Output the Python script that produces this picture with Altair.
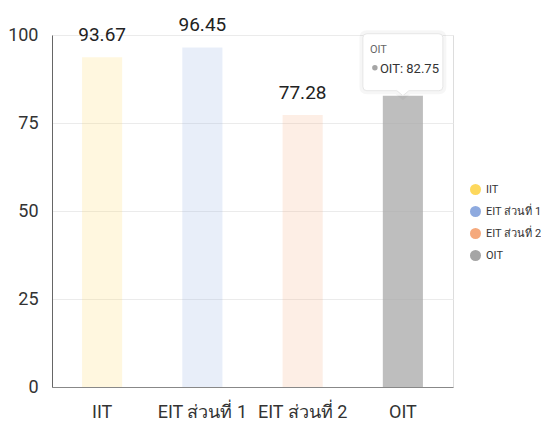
import altair as alt
import pandas as pd

categories = ["IIT", "EIT ส่วนที่ 1", "EIT ส่วนที่ 2", "OIT"]
values = [93.67, 96.45, 77.28, 82.75]
legend_colors = ["#fdd85d", "#8eaadf", "#f5a97c", "#a5a5a5"]
y_ticks = [0, 25, 50, 75, 100]
highlighted = "OIT"

df = pd.DataFrame({"category": categories, "value": values})

FONT = "Roboto"

x = alt.X(
    "category:N", sort=categories,
    scale=alt.Scale(paddingInner=0.6, paddingOuter=0.3),
    axis=alt.Axis(title=None, labelAngle=0, labelFontSize=18, labelColor="#333",
                  labelPadding=16, ticks=False, domainColor="#888", grid=False),
)
y = alt.Y(
    "value:Q", scale=alt.Scale(domain=[0, 100], nice=False),
    axis=alt.Axis(title=None, values=y_ticks, labelFontSize=18, labelPadding=14,
                  ticks=False, domainColor="#666", gridColor="#ebebeb", labelColor="#333"),
)
color = alt.Color(
    "category:N",
    scale=alt.Scale(domain=categories, range=legend_colors),
    legend=alt.Legend(title=None, orient="none", legendX=418, legendY=149,
                      symbolType="circle", symbolSize=121, symbolOpacity=1,
                      symbolStrokeWidth=0, labelFontSize=11, labelColor="#333",
                      rowPadding=10, labelOffset=5, labelLimit=80),
)

base = alt.Chart(df)

bars = base.mark_bar().encode(
    x=x, y=y, color=color,
    opacity=alt.condition(alt.datum.category == highlighted, alt.value(0.72), alt.value(0.2)),
)

labels = base.transform_filter(alt.datum.category != highlighted).mark_text(
    baseline="alphabetic", dy=-16, fontSize=19, color="#222"
).encode(x=x, y=y, text=alt.Text("value:Q", format=".2f"))

BOX = ("M -0.9 -1.55 L 0.9 -1.55 Q 1 -1.55 1 -1.45 L 1 -0.225 Q 1 -0.125 0.9 -0.125 "
       "L 0.15 -0.125 L 0 0 L -0.15 -0.125 L -0.9 -0.125 Q -1 -0.125 -1 -0.225 "
       "L -1 -1.45 Q -1 -1.55 -0.9 -1.55 Z")

tip = base.transform_filter(alt.datum.category == highlighted)

shadow = tip.mark_point(shape=BOX, size=6400, filled=True, fill="white", stroke="#000",
                        strokeOpacity=0.035, strokeWidth=7, opacity=1).encode(x=x, y=y)
box = tip.mark_point(shape=BOX, size=6400, filled=True, fill="white", stroke="#e6e6e6",
                     strokeWidth=1, opacity=1).encode(x=x, y=y)
tip_title = tip.mark_text(align="left", baseline="alphabetic", dx=-33, dy=-43,
                          fontSize=11, color="#666").encode(x=x, y=y, text="category:N")
tip_dot = tip.mark_point(shape="circle", filled=True, size=30, color="#a5a5a5", opacity=1,
                         xOffset=-28, yOffset=-28).encode(x=x, y=y)
tip_text = tip.transform_calculate(
    label=alt.datum.category + ": " + alt.expr.format(alt.datum.value, ".2f")
).mark_text(align="left", baseline="alphabetic", dx=-23, dy=-23, fontSize=13,
            color="#333").encode(x=x, y=y, text="label:N")

chart = alt.layer(bars, labels, shadow, box, tip_title, tip_dot, tip_text).properties(
    width=401, height=352,
    autosize=alt.AutoSizeParams(type="none"),
    padding={"left": 44, "top": 27, "right": 88, "bottom": 33},
).configure_view(stroke=None).configure(font=FONT)

chart.save("out.html", embed_options={"renderer": "svg", "actions": False})
